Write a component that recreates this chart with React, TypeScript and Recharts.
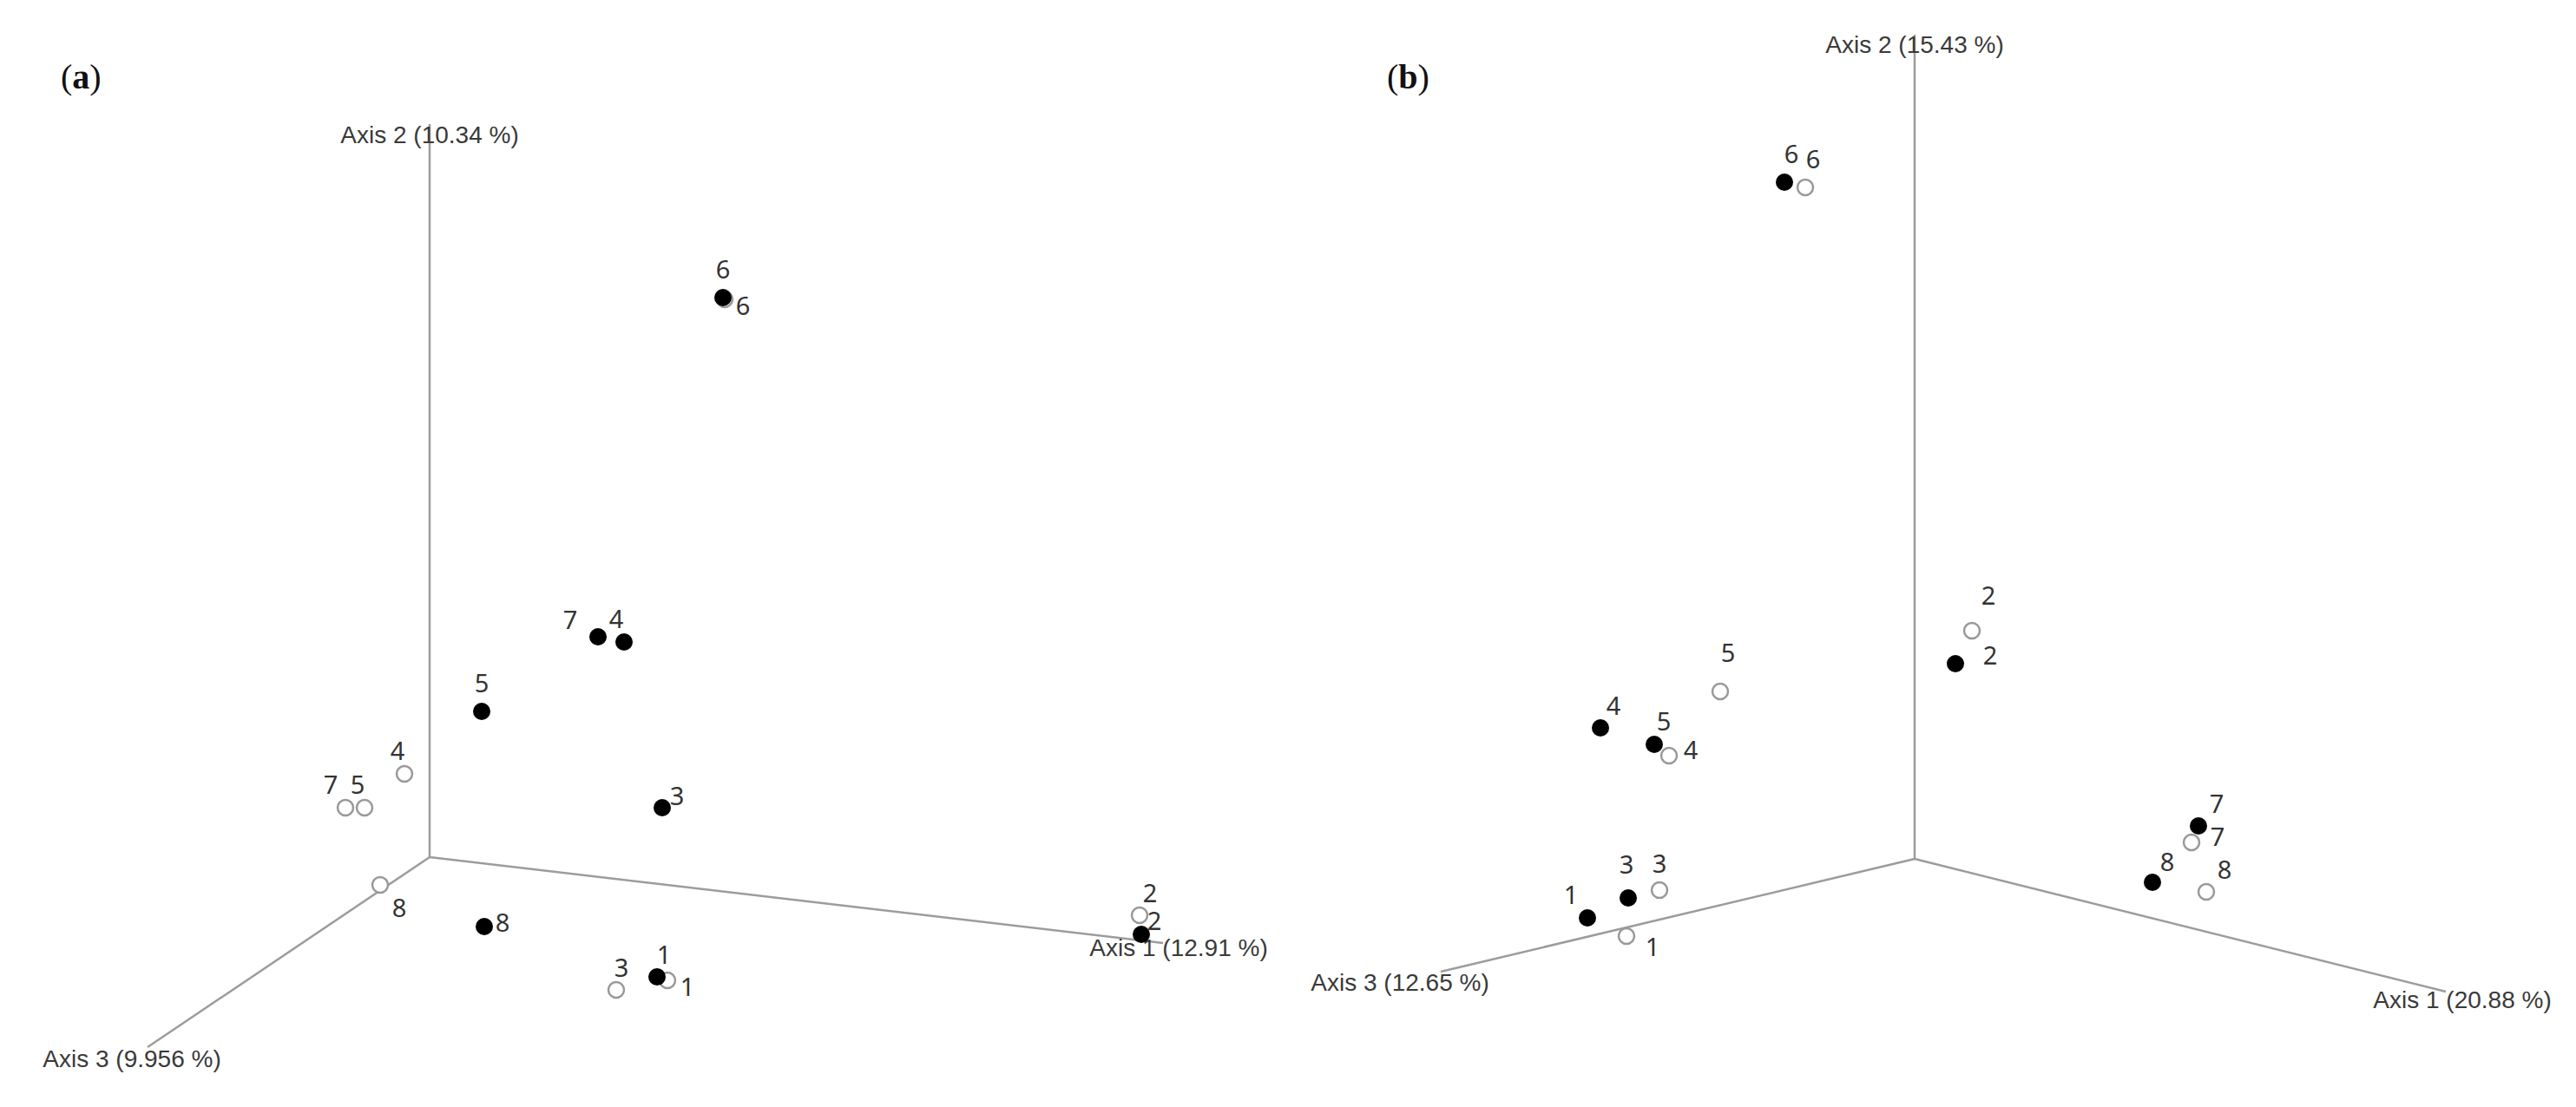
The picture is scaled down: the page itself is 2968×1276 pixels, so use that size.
import React from "react";
import {
  ScatterChart,
  Scatter,
  XAxis,
  YAxis,
  ReferenceLine,
} from "recharts";

// sample ids (same order in every array)
const SAMPLES = ["1", "2", "3", "4", "5", "6", "7", "8"];

// panel (a) projected scores
const A_FILLED_X = [2.62, 8.2, 2.68, 2.24, 0.6, 3.38, 1.94, 0.63];
const A_FILLED_Y = [-1.38, -0.89, 0.57, 2.48, 1.68, 6.45, 2.54, -0.8];
const A_OPEN_X = [2.74, 8.18, 2.15, -0.29, -0.75, 3.4, -0.97, -0.57];
const A_OPEN_Y = [-1.42, -0.67, -1.53, 0.96, 0.57, 6.43, 0.57, -0.32];

// panel (b) projected scores
const B_FILLED_X = [-3.77, 0.47, -3.3, -3.62, -3.0, -1.5, 3.27, 2.74];
const B_FILLED_Y = [-0.68, 2.25, -0.45, 1.51, 1.32, 7.8, 0.38, -0.27];
const B_OPEN_X = [-3.32, 0.66, -2.94, -2.83, -2.24, -1.26, 3.19, 3.36];
const B_OPEN_Y = [-0.89, 2.63, -0.36, 1.19, 1.93, 7.74, 0.19, -0.38];

// axes: names and projected end points
const A_AXIS_NAMES = ["Axis 1 (12.91 %)", "Axis 2 (10.34 %)", "Axis 3 (9.956 %)"];
const A_AXIS_END_X = [8.45, 0, -3.25];
const A_AXIS_END_Y = [-0.99, 8.45, -2.19];
const B_AXIS_NAMES = ["Axis 1 (20.88 %)", "Axis 2 (15.43 %)", "Axis 3 (12.65 %)"];
const B_AXIS_END_X = [6.12, 0, -5.46];
const B_AXIS_END_Y = [-1.53, 9.5, -1.3];

// label nudges in px (dx, dy), per sample
const A_FILLED_LBL = [[8, -25], [15, -15], [17, -13], [-9, -26], [0, -32], [0, -32], [-32, -19], [21, -4]];
const A_OPEN_LBL = [[23, 8], [12, -25], [6, -25], [-8, -26], [-8, -26], [21, 8], [-17, -26], [22, 27]];
const B_FILLED_LBL = [[-19, -26], [40, -9], [-2, -38], [15, -25], [11, -26], [8, -32], [21, -25], [17, -23]];
const B_OPEN_LBL = [[30, 13], [19, -40], [0, -30], [25, -6], [9, -44], [9, -32], [30, -6], [21, -25]];
const A_AXIS_LBL = [[18, 5], [0, 12], [-18, 13]];
const B_AXIS_LBL = [[19, 9], [0, 11], [-47, 12]];

const W = 1484;
const H = 1276;
const UNIT = 100; // px per score unit

const toPoints = (xs: number[], ys: number[], lbl: number[][]) =>
  SAMPLES.map((s, i) => ({ id: s, x: xs[i], y: ys[i], dx: lbl[i][0], dy: lbl[i][1] }));

const toAxes = (names: string[], xs: number[], ys: number[], lbl: number[][]) =>
  names.map((n, i) => ({ name: n, x: xs[i], y: ys[i], dx: lbl[i][0], dy: lbl[i][1] }));

const FilledDot = (p: any) => (
  <g>
    <circle cx={p.cx} cy={p.cy} r={10} fill="#000" />
    <text
      x={p.cx + p.payload.dx}
      y={p.cy + p.payload.dy}
      textAnchor="middle"
      dy="0.36em"
      fontFamily="Noto Sans"
      fontSize={29}
      fill="#333"
    >
      {p.payload.id}
    </text>
  </g>
);

const OpenDot = (p: any) => (
  <g>
    <circle cx={p.cx} cy={p.cy} r={9} fill="#fff" stroke="#999" strokeWidth={2.5} />
    <text
      x={p.cx + p.payload.dx}
      y={p.cy + p.payload.dy}
      textAnchor="middle"
      dy="0.36em"
      fontFamily="Noto Sans"
      fontSize={29}
      fill="#333"
    >
      {p.payload.id}
    </text>
  </g>
);

const AxisName = (p: any) => (
  <text
    x={p.cx + p.payload.dx}
    y={p.cy + p.payload.dy}
    textAnchor="middle"
    dy="0.36em"
    fontFamily="Liberation Sans"
    fontSize={28}
    fill="#3a3a3a"
  >
    {p.payload.name}
  </text>
);

function Panel({
  originX,
  originY,
  filled,
  open,
  axes,
}: {
  originX: number;
  originY: number;
  filled: any[];
  open: any[];
  axes: any[];
}) {
  const xDomain = [-originX / UNIT, (W - originX) / UNIT];
  const yDomain = [-(H - originY) / UNIT, originY / UNIT];
  return (
    <ScatterChart width={W} height={H} margin={{ top: 0, right: 0, bottom: 0, left: 0 }}>
      <XAxis type="number" dataKey="x" domain={xDomain} allowDataOverflow hide />
      <YAxis type="number" dataKey="y" domain={yDomain} allowDataOverflow hide />
      {axes.map((a) => (
        <ReferenceLine
          key={a.name}
          segment={[{ x: 0, y: 0 }, { x: a.x, y: a.y }]}
          stroke="#9c9c9c"
          strokeWidth={2.5}
          ifOverflow="visible"
        />
      ))}
      <Scatter data={axes} shape={AxisName} isAnimationActive={false} />
      <Scatter data={open} shape={OpenDot} isAnimationActive={false} />
      <Scatter data={filled} shape={FilledDot} isAnimationActive={false} />
    </ScatterChart>
  );
}

const titleStyle: React.CSSProperties = {
  position: "absolute",
  top: 69,
  fontFamily: "Liberation Serif",
  fontSize: 40,
  lineHeight: 1,
  color: "#111",
};

export default function App() {
  return (
    <div
      style={{
        position: "absolute",
        left: 0,
        top: 0,
        width: 2968,
        height: 1276,
        background: "#fff",
        overflow: "hidden",
      }}
    >
      <div style={{ position: "absolute", left: 0, top: 0 }}>
        <Panel
          originX={495}
          originY={988}
          filled={toPoints(A_FILLED_X, A_FILLED_Y, A_FILLED_LBL)}
          open={toPoints(A_OPEN_X, A_OPEN_Y, A_OPEN_LBL)}
          axes={toAxes(A_AXIS_NAMES, A_AXIS_END_X, A_AXIS_END_Y, A_AXIS_LBL)}
        />
      </div>
      <div style={{ position: "absolute", left: W, top: 0 }}>
        <Panel
          originX={722}
          originY={990}
          filled={toPoints(B_FILLED_X, B_FILLED_Y, B_FILLED_LBL)}
          open={toPoints(B_OPEN_X, B_OPEN_Y, B_OPEN_LBL)}
          axes={toAxes(B_AXIS_NAMES, B_AXIS_END_X, B_AXIS_END_Y, B_AXIS_LBL)}
        />
      </div>
      <div style={{ ...titleStyle, left: 70 }}>
        (<b>a</b>)
      </div>
      <div style={{ ...titleStyle, left: 1598 }}>
        (<b>b</b>)
      </div>
    </div>
  );
}
